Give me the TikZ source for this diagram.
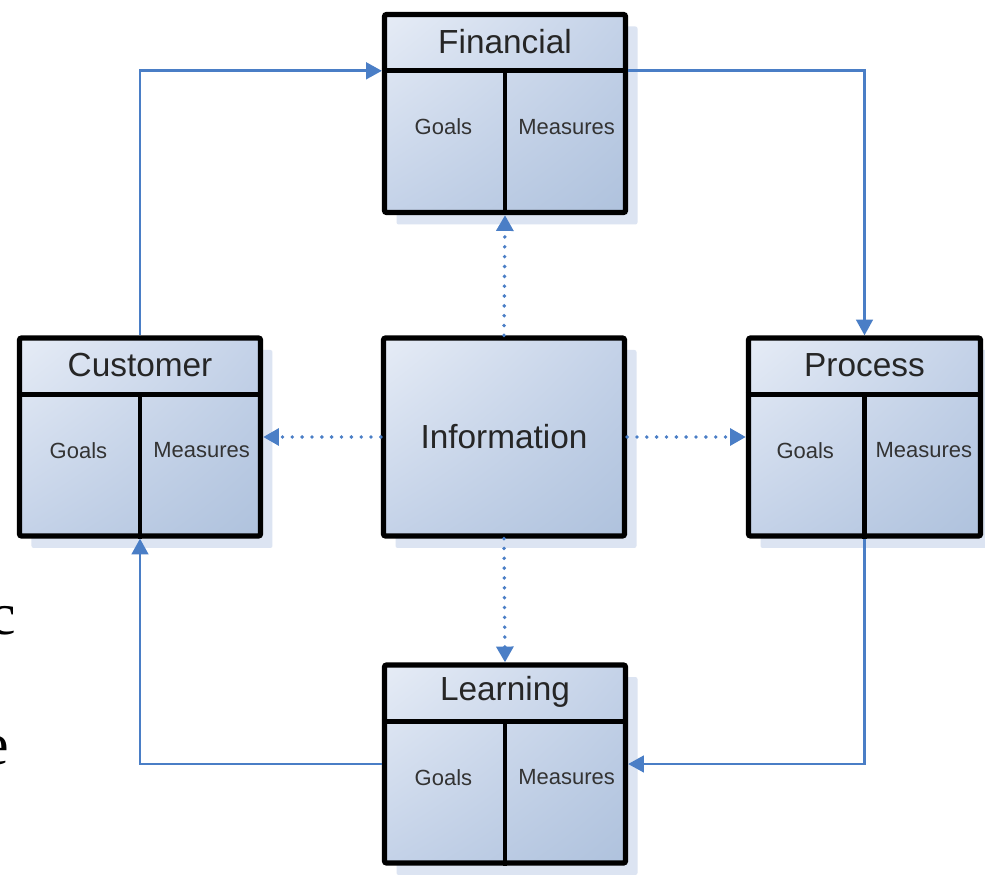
\documentclass[tikz,border=0pt]{standalone}
\usepackage{fontspec}
\setmainfont{Liberation Sans}
\newfontfamily\pageserif{Liberation Serif}
\usepackage{tikz}
\usetikzlibrary{calc}
\usetikzlibrary{arrows.meta}
\usetikzlibrary{shadings,shadows}
\definecolor{cardlight}{HTML}{E6ECF6}
\definecolor{cardmid}{HTML}{C4D2E8}
\definecolor{carddark}{HTML}{AFC2DD}
\definecolor{cardshadow}{HTML}{DCE4F2}
\definecolor{linkblue}{HTML}{4A7EC6}
\tikzset{>={Triangle[length=9pt,width=9.5pt]}}
\tikzset{
  card/.style={draw=black, line width=3pt, rounded corners=1.2pt, inner sep=0pt,
    upper left=cardlight, upper right=cardmid, lower left=cardmid, lower right=carddark,
    minimum height=198*0.02cm,
    drop shadow={shadow xshift=0.24cm, shadow yshift=-0.24cm, fill=cardshadow, opacity=1}},
  splitline/.style={line width=2.8pt},
  headtext/.style={font=\fontsize{19}{22}\selectfont, text=black!85},
  celltext/.style={font=\fontsize{12.5}{15}\selectfont, text=black!80},
  flow/.style={->, draw=linkblue, line width=1.5pt},
  infoflow/.style={->, draw=linkblue, line width=2.2pt, line cap=round, dash pattern=on 0pt off 5.6pt}
}

\begin{document}
\begin{tikzpicture}[x=0.02cm, y=-0.02cm]
            \clip (0,0) rectangle (985,875);
            \fill[white] (0,0) rectangle (985,875);

            % cut off page text
            \node[anchor=base east, inner sep=0pt, font=\pageserif\fontsize{34}{40}\selectfont] (pagec) at (16,634) {c};
            \node[anchor=base east, inner sep=0pt, font=\pageserif\fontsize{34}{40}\selectfont] (pagee) at (9,764) {e};

            % perspectives
            \foreach \n/\x/\y/\w/\head in {financial/505/113.5/241/Financial, customer/140/437/241/Customer, process/864.5/437/232/Process, learning/505/764/241/Learning}{
                \node[card, minimum width=\w*0.02cm] (\n) at (\x,\y) {};
                \coordinate (\n-hl) at ($(\n.north west)!0.29!(\n.south west)$);
                \coordinate (\n-hr) at ($(\n.north east)!0.29!(\n.south east)$);
                \draw[splitline] (\n-hl) -- (\n-hr);
                \draw[splitline] (\n-hl -| \n.center) -- (\n.south);
                \node[headtext] (\n-head) at ($(\n.north)!0.5!(\n-hl -| \n.center)$) {\head};
                \node[celltext] (\n-goals) at ($(\n-hl)!0.25!(\n-hr) + (0,56)$) {Goals};
                \node[celltext] (\n-measures) at ($(\n-hl)!0.75!(\n-hr) + (0,56)$) {Measures};
            }

            % information
            \node[card, minimum width=241*0.02cm, headtext] (information) at (504,437) {Information};

            % cycle
            \draw[flow] (customer.north) |- (financial-hl);
            \draw[flow] (financial-hr) -| (process.north);
            \draw[flow] (process.south) |- (learning.east);
            \draw[flow] (learning.west) -| (customer.south);

            % information links
            \draw[infoflow] (information.north) -- (financial.south);
            \draw[infoflow] (information.west) -- (customer.east);
            \draw[infoflow] (information.east) -- (process.west);
            \draw[infoflow] (information.south) -- (learning.north);
        \end{tikzpicture}
\end{document}
